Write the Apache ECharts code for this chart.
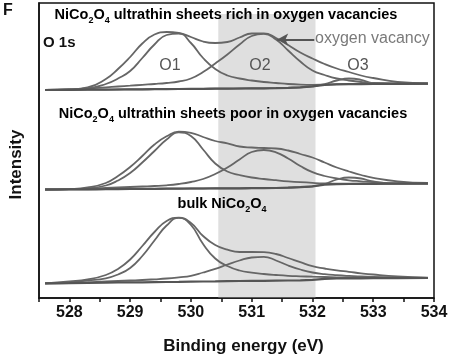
<!DOCTYPE html>
<html><head><meta charset="utf-8">
<script src="https://cdn.jsdelivr.net/npm/echarts@6/dist/echarts.min.js"></script>
<style>html,body{margin:0;padding:0;background:#fff}#c{width:454px;height:362px}</style>
</head><body><div id="c"></div>
<script>
// Binding energy grid (eV)
const bindingEnergy = [527.6, 528.0, 528.3, 528.6, 528.8, 529.0, 529.2, 529.4, 529.6, 529.8, 530.0, 530.2, 530.4, 530.6, 530.8, 531.0, 531.2, 531.4, 531.6, 531.8, 532.0, 532.2, 532.4, 532.6, 532.8, 533.0, 533.4, 533.9];

// Spectrum 1: ultrathin sheets rich in oxygen vacancies (offset stack, top)
const richEnvelope = [208, 208.5, 210.5, 219, 229, 241, 254.5, 263.5, 266, 265, 261, 256.5, 255, 256, 260.5, 264.5, 264.7, 260, 253, 245.5, 239.5, 234, 229.5, 226, 222.5, 220, 216, 214.5];
const richO1 = [208, 208.5, 209.5, 214, 219.5, 227, 240, 253.5, 263, 264.5, 255, 240, 229, 222.5, 219.5, 217.5, 216, 215, 214, 213.4, 213.2, 213.4, 213.8, 214, 214.1, 214.2, 214.3, 214.4];
const richO2 = [208, 208.5, 209.5, 210.7, 211.5, 212.3, 213.2, 214, 215, 216.5, 219.5, 226, 234.5, 243.5, 253.5, 262, 264.2, 258.5, 247.5, 236.5, 227.5, 223, 219.5, 217.5, 216, 215, 214.5, 214.4];
const richO3 = [208, 208.2, 208.3, 208.4, 208.5, 208.6, 208.7, 208.8, 208.9, 209, 209.1, 209.2, 209.3, 209.4, 209.5, 209.6, 209.7, 209.9, 210.2, 210.7, 211.7, 213.8, 217.5, 219.5, 218.2, 214.8, 214.2, 214.4];
const richBase = [208, 208.2, 208.3, 208.4, 208.5, 208.6, 208.7, 208.8, 208.9, 209, 209.1, 209.2, 209.3, 209.4, 209.5, 209.6, 209.7, 209.9, 210.2, 210.7, 211.7, 213, 213.6, 213.8, 213.9, 214, 214.2, 214.4];

// Spectrum 2: ultrathin sheets poor in oxygen vacancies (middle)
const poorEnvelope = [108.5, 109, 110.5, 115, 122, 131, 142, 153.5, 161.7, 166.3, 165.2, 161, 157, 154.7, 151.5, 150.5, 150, 149.5, 147.5, 144, 140.5, 135.5, 130.5, 126.5, 123, 120.2, 116.7, 115];
const poorO1 = [108.5, 108.8, 109.7, 112.5, 117.5, 125, 135.5, 147, 158.5, 165.7, 162, 148.5, 134.5, 126.5, 123, 120.5, 119, 117.8, 116.7, 115.8, 115.1, 114.6, 114.4, 114.3, 114.3, 114.3, 114.4, 114.5];
const poorO2 = [108.5, 108.8, 109.3, 110, 110.5, 111, 111.5, 112, 112.7, 114, 116, 119, 124, 130.5, 138.5, 146, 148, 145.7, 139.5, 132, 125.8, 122, 119.5, 117.7, 116.7, 115.8, 114.8, 114.5];
const poorO3 = [108.5, 108.6, 108.7, 108.8, 108.9, 109, 109.1, 109.2, 109.3, 109.4, 109.5, 109.5, 109.6, 109.6, 109.7, 109.8, 109.9, 110, 110.3, 110.8, 111.7, 114, 118.5, 120.5, 119.5, 116.5, 114.3, 114.5];
const poorBase = [108.5, 108.6, 108.7, 108.8, 108.9, 109, 109.1, 109.2, 109.3, 109.4, 109.5, 109.5, 109.6, 109.6, 109.7, 109.8, 109.9, 110, 110.3, 110.8, 111.7, 113.3, 113.8, 114, 114.1, 114.2, 114.3, 114.5];

// Spectrum 3: bulk NiCo2O4 (bottom)
const bulkEnvelope = [14.7, 16.5, 18.5, 23, 29, 38.5, 52, 66, 77, 80.3, 75, 62, 53, 48.3, 46, 46, 45.8, 44, 40, 35.8, 31.8, 29.5, 27.6, 26.2, 24.7, 23.5, 21.7, 20.3];
const bulkO1 = [14.7, 15.7, 17.5, 19.7, 23.5, 30, 42, 57.5, 72.5, 80.1, 73, 54, 39.5, 32, 27.5, 25.3, 24, 23, 22.2, 21.7, 21.3, 21, 20.7, 20.5, 20.3, 20.2, 20.1, 20];
const bulkO2 = [14.7, 15, 15.7, 16.5, 17, 17.5, 18, 18.7, 19.5, 20.7, 22.2, 25.5, 29.2, 33.5, 37.5, 40.5, 41.2, 37.5, 32.5, 28.5, 25.5, 23.8, 22.8, 22.1, 21.6, 21.2, 20.6, 20];
const bulkBase = [14.7, 14.9, 15.1, 15.3, 15.5, 15.6, 15.7, 15.9, 16, 16.1, 16.3, 16.5, 16.6, 16.8, 17, 17.1, 17.2, 17.4, 17.5, 17.7, 18.2, 19.2, 19.5, 19.6, 19.7, 19.8, 19.9, 20];

const xTickLabels = [528, 529, 530, 531, 532, 533, 534];
const shadeRange = [530.45, 532.05];
const arrowFrom = [532.03, 258.5];
const arrowTo = [531.42, 258.5];

const FONT = '"Liberation Sans", Arial, sans-serif';
const chart = echarts.init(document.getElementById('c'));

function pts(ys) { return bindingEnergy.map((x, i) => [x, ys[i]]); }
function curve(ys, extra) {
  return Object.assign({
    type: 'line', data: pts(ys), smooth: 0.5, symbol: 'none', silent: true, z: 2,
    lineStyle: { color: '#666', width: 1.8 }
  }, extra || {});
}
function base(ys) {
  return curve(ys, { smooth: false, lineStyle: { color: '#555', width: 2.2 } });
}

const series = [
  curve(richEnvelope), curve(richO1), curve(richO2), curve(richO3), base(richBase),
  curve(poorEnvelope), curve(poorO1), curve(poorO2), curve(poorO3), base(poorBase),
  curve(bulkEnvelope), curve(bulkO1), curve(bulkO2), base(bulkBase),
  {
    type: 'line', data: [], z: 5, silent: true,
    markArea: {
      silent: true,
      itemStyle: { color: 'rgba(175,175,175,0.4)' },
      data: [[{ xAxis: shadeRange[0], yAxis: 0 }, { xAxis: shadeRange[1], yAxis: 284 }]]
    },
    markLine: {
      silent: true, symbol: ['none', 'arrow'], symbolSize: [9, 11],
      label: { show: false },
      lineStyle: { color: '#555', width: 2, type: 'solid' },
      data: [[{ coord: arrowFrom }, { coord: arrowTo }]]
    }
  }
];

function subTitle(main, rest) {
  return '{b|' + main[0] + '}{s|2}{b|' + main[1] + '}{s|4}{b|' + rest + '}';
}
const rich = {
  b: { fontFamily: FONT, fontWeight: 'bold', fontSize: 14.5, color: '#1a1a1a', lineHeight: 20 },
  s: { fontFamily: FONT, fontWeight: 'bold', fontSize: 9, color: '#1a1a1a', lineHeight: 20, verticalAlign: 'bottom' }
};
function txt(text, x, y, font, fill, align) {
  return { type: 'text', z: 20, silent: true, style: { text, x, y, font, fill, textAlign: align || 'center', textVerticalAlign: 'middle' } };
}
function richTxt(text, x, y) {
  return { type: 'text', z: 20, silent: true, style: { text, x, y, rich, textAlign: 'center', textVerticalAlign: 'middle' } };
}

chart.setOption({
  animation: false,
  backgroundColor: '#fff',
  grid: { left: 38, right: 20, top: 3, bottom: 64, show: true, borderColor: '#111', borderWidth: 1.5, backgroundColor: 'transparent' },
  xAxis: {
    type: 'value', min: 527.5, max: 534, interval: 0.5,
    axisLine: { lineStyle: { color: '#111', width: 1.5 } },
    axisTick: { length: 4, lineStyle: { color: '#111', width: 1.5 } },
    axisLabel: {
      margin: 7, color: '#111', fontFamily: FONT, fontWeight: 'bold', fontSize: 16,
      formatter: v => (xTickLabels.indexOf(v) >= 0 ? String(v) : '')
    },
    splitLine: { show: false },
    name: 'Binding energy (eV)', nameLocation: 'middle', nameGap: 40,
    nameTextStyle: { color: '#111', fontFamily: FONT, fontWeight: 'bold', fontSize: 17, padding: [0, 0, 0, 14] }
  },
  yAxis: {
    type: 'value', min: 0, max: 295,
    axisLine: { show: true, lineStyle: { color: '#111', width: 1.5 } },
    axisTick: { show: false }, axisLabel: { show: false }, splitLine: { show: false },
    name: 'Intensity', nameLocation: 'middle', nameGap: 14, nameRotate: 90,
    nameTextStyle: { color: '#111', fontFamily: FONT, fontWeight: 'bold', fontSize: 17, padding: [0, 28, 0, 0] }
  },
  series,
  graphic: [
    txt('F', 3, 11, 'bold 16px ' + FONT, '#111', 'left'),
    richTxt(subTitle(['NiCo', 'O'], ' ultrathin sheets rich in oxygen vacancies'), 226, 15),
    richTxt(subTitle(['NiCo', 'O'], ' ultrathin sheets poor in oxygen vacancies'), 233, 114),
    richTxt('{b|bulk NiCo}{s|2}{b|O}{s|4}', 222, 204),
    txt('O 1s', 43, 43, 'bold 15px ' + FONT, '#111', 'left'),
    txt('O1', 170, 66, '16px ' + FONT, '#555'),
    txt('O2', 260, 66, '16px ' + FONT, '#555'),
    txt('O3', 358, 66, '16px ' + FONT, '#555'),
    txt('oxygen vacancy', 315, 39, '16px ' + FONT, '#7a7a7a', 'left')
  ]
});
</script></body></html>
